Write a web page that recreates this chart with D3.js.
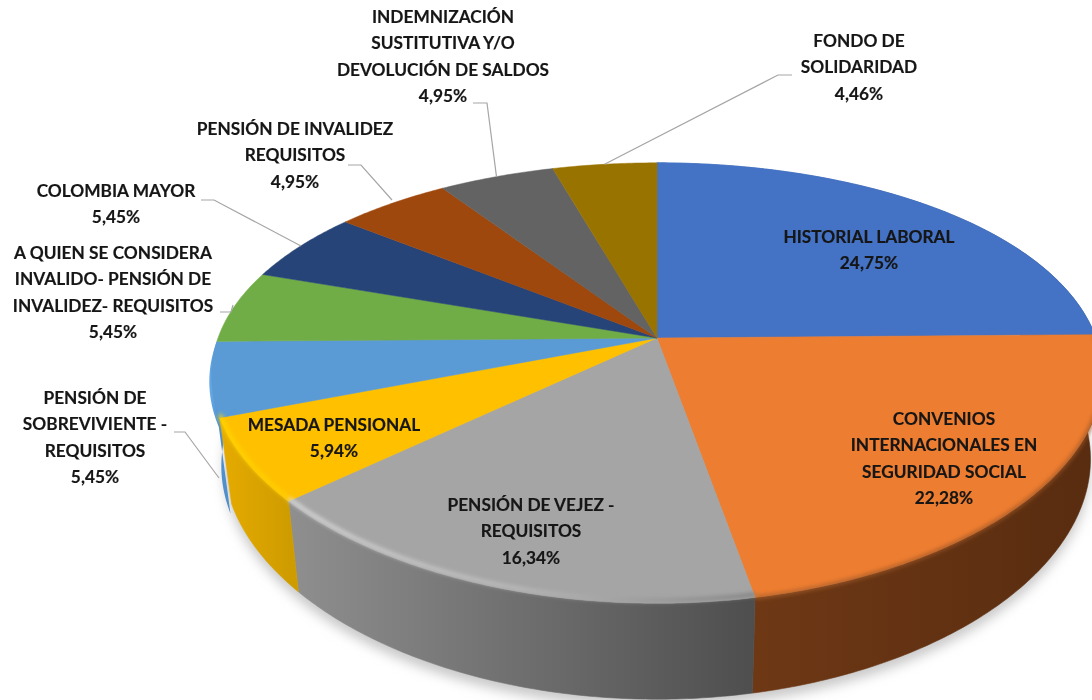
<!DOCTYPE html>
<html>
<head>
<meta charset="utf-8">
<script src="https://cdn.jsdelivr.net/npm/d3@7"></script>
<style>
html, body { margin: 0; padding: 0; background: #fff; }
svg { display: block; }
text { font-family: Lato, "Open Sans", sans-serif; font-weight: 700; font-size: 17.3px; fill: #141414; stroke: #141414; stroke-width: 0.15px; }
</style>
</head>
<body>
<div id="zone_graphique"></div>
<script>
var largeur = 1092;
var hauteur = 700;

// valeurs
var categories = ["HISTORIAL LABORAL", "CONVENIOS INTERNACIONALES EN SEGURIDAD SOCIAL", "PENSIÓN DE VEJEZ - REQUISITOS",
    "MESADA PENSIONAL", "PENSIÓN DE SOBREVIVIENTE - REQUISITOS", "A QUIEN SE CONSIDERA INVALIDO- PENSIÓN DE INVALIDEZ- REQUISITOS",
    "COLOMBIA MAYOR", "PENSIÓN DE INVALIDEZ REQUISITOS", "INDEMNIZACIÓN SUSTITUTIVA Y/O DEVOLUCIÓN DE SALDOS", "FONDO DE SOLIDARIDAD"];
var valeurs = [24.75, 22.28, 16.34, 5.94, 5.45, 5.45, 5.45, 4.95, 4.95, 4.46];
var lignes = [
    ["HISTORIAL LABORAL"],
    ["CONVENIOS", "INTERNACIONALES EN", "SEGURIDAD SOCIAL"],
    ["PENSIÓN DE VEJEZ -", "REQUISITOS"],
    ["MESADA PENSIONAL"],
    ["PENSIÓN DE", "SOBREVIVIENTE -", "REQUISITOS"],
    ["A QUIEN SE CONSIDERA", "INVALIDO- PENSIÓN DE", "INVALIDEZ- REQUISITOS"],
    ["COLOMBIA MAYOR"],
    ["PENSIÓN DE INVALIDEZ", "REQUISITOS"],
    ["INDEMNIZACIÓN", "SUSTITUTIVA Y/O", "DEVOLUCIÓN DE SALDOS"],
    ["FONDO DE", "SOLIDARIDAD"]
];

// couleurs
var couleurs = ["#4472c4", "#ed7d31", "#a5a5a5", "#ffc000", "#5b9bd5", "#70ad47", "#264478", "#9e480e", "#636363", "#997300"];
var muroClair = ["#4472c4", "#6e3815", "#8f8f8f", "#e6ab00", "#62a6e4", "#70ad47", "#264478", "#9e480e", "#636363", "#997300"];
var muroFonce = ["#2f4f88", "#582c10", "#4e4e4e", "#cf9c00", "#4f8fcb", "#70ad47", "#264478", "#9e480e", "#636363", "#997300"];
// biseau du bord avant : [début, milieu, fin]
var bordOrange = ["#a8602c", "#9c5526", "#9c5526"];
var bordGris = ["#e0e0e0", "#bcbcbc", "#7c7c7c"];
var bordJaune = ["#ffd800", "#ffd400", "#ffd000"];

// position des étiquettes (centre x, centre y de la première ligne)
var etiquetteX = [869, 944, 531, 334, 95, 113, 116, 295, 443, 859];
var etiquetteY = [237, 419, 505, 425, 398, 253, 191, 129, 17, 41];
var pasLigne = 26.2;

// traits de rappel : départ près du texte, coude, puis arrivée sur le camembert
var rappels = [
    {i: 4, pts: [[174, 432], [185, 432]], fin: [219, 478]},
    {i: 5, pts: [[220, 312], [231, 312]], fin: [233, 305]},
    {i: 6, pts: [[201, 200], [214, 200]], fin: [301, 246]},
    {i: 7, pts: [[348, 165], [361, 165]], fin: [392, 200]},
    {i: 8, pts: [[473, 103], [487, 103]]},
    {i: 9, pts: [[792, 75], [778, 75]]}
];

// projection en perspective du disque
var cx = 657, cy = 338, rx = 439, ry = 211, k = 0.2046, kx = 0.17;
var echelleBas = 0.973, profondeur = 82;

function haut(a) {
    var u = Math.sin(a), v = -Math.cos(a);
    return [cx + rx * u / (1 - kx * v), cy + ry * v / (1 - k * v)];
}
function bas(a) {
    var u = Math.sin(a), v = -Math.cos(a), w = 1 - k * v;
    return [cx + echelleBas * rx * u / (1 - kx * v), cy + profondeur / w + echelleBas * ry * v / w];
}
function arcPoints(f, d) {
    var n = Math.ceil((d.endAngle - d.startAngle) / 0.01);
    return d3.range(n + 1).map(function (j) {
        return f(d.startAngle + (d.endAngle - d.startAngle) * j / n);
    });
}

var pie = d3.pie().sort(null).value(function (d) { return d; }).startAngle(0).endAngle(2 * Math.PI);
var parts = pie(valeurs);
var ligne = d3.line();

var svg = d3.select("#zone_graphique")
    .append("svg")
        .attr("width", largeur)
        .attr("height", hauteur);

var defs = svg.append("defs");
[["flouOmbre", 6], ["flouBord", 2.1], ["flouTexte", 0.4]].forEach(function (f) {
    defs.append("filter").attr("id", f[0])
        .attr("x", "-10%").attr("y", "-10%").attr("width", "120%").attr("height", "120%")
        .append("feGaussianBlur").attr("stdDeviation", f[1]);
});

function degrade(id, x1, x2, stops) {
    var g = defs.append("linearGradient").attr("id", id)
        .attr("gradientUnits", "userSpaceOnUse")
        .attr("x1", x1).attr("x2", x2).attr("y1", 0).attr("y2", 0);
    stops.forEach(function (c, j) {
        g.append("stop").attr("offset", j / (stops.length - 1)).attr("stop-color", c);
    });
}
function bornes(d) {
    return d3.extent(arcPoints(haut, d), function (p) { return p[0]; });
}

parts.forEach(function (d, i) {
    var b = bornes(d);
    degrade("mur" + i, b[0], b[1], [muroClair[i], muroFonce[i]]);
});
degrade("bord1", bornes(parts[1])[0], bornes(parts[1])[1], bordOrange);
degrade("bord2", bornes(parts[2])[0], bornes(parts[2])[1], bordGris);
degrade("bord3", bornes(parts[3])[0], bornes(parts[3])[1], bordJaune);

// ombre portée sous le disque
var toutes = {startAngle: 0, endAngle: 2 * Math.PI};
svg.append("path")
    .attr("d", ligne(arcPoints(bas, toutes)) + "Z")
    .attr("transform", "translate(0,8)")
    .attr("fill", "#c9c9c9")
    .attr("filter", "url(#flouOmbre)");

// croissant bleu clair visible à gauche du mur jaune, il s'efface vers le haut
var bleu = {startAngle: parts[4].startAngle - 0.04, endAngle: parts[4].endAngle};
function decale(f) {
    return function (a) {
        var t = (bleu.endAngle - a) / (bleu.endAngle - bleu.startAngle);
        var p = f(a);
        return [p[0] - 5 * t, p[1]];
    };
}
svg.append("path")
    .attr("d", ligne(arcPoints(decale(haut), bleu).concat(arcPoints(decale(bas), bleu).reverse())) + "Z")
    .attr("fill", "url(#mur4)");

// murs du disque
var murs = svg.append("g");
[0, 1, 2, 3].forEach(function (i) {
    var d = parts[i];
    murs.append("path")
        .attr("d", ligne(arcPoints(haut, d).concat(arcPoints(bas, d).reverse())) + "Z")
        .attr("fill", "url(#mur" + i + ")")
        .attr("stroke", "url(#mur" + i + ")")
        .attr("stroke-width", 0.6);
});

// dessus du disque
svg.append("g").selectAll("path")
    .data(parts)
    .enter()
    .append("path")
        .attr("d", function (d) { return ligne([[cx, cy]].concat(arcPoints(haut, d))) + "Z"; })
        .attr("fill", function (d, i) { return couleurs[i]; })
        .attr("stroke", function (d, i) { return couleurs[i]; })
        .attr("stroke-width", 0.5);

// biseau clair sur le bord avant
var biseau = svg.append("g");
[1, 2, 3].forEach(function (i) {
    var d = parts[i];
    biseau.append("path")
        .attr("d", ligne(arcPoints(haut, d).map(function (p) { return [p[0], p[1] - (i == 1 ? 0 : 3)]; })))
        .attr("fill", "none")
        .attr("stroke", "url(#bord" + i + ")")
        .attr("stroke-width", i == 1 ? 3 : 3.5)
        .attr("filter", "url(#flouBord)");
});

// traits de rappel
svg.append("g").selectAll("path")
    .data(rappels)
    .enter()
    .append("path")
        .attr("d", function (r) {
            var d = parts[r.i];
            var fin = r.fin || haut((d.startAngle + d.endAngle) / 2);
            return ligne(r.pts.concat([fin]));
        })
        .attr("fill", "none")
        .attr("stroke", "#a6a6a6")
        .attr("stroke-width", 1.2);

// étiquettes
var etiquettes = svg.append("g").attr("filter", "url(#flouTexte)");
lignes.forEach(function (l, i) {
    var textes = l.concat([d3.format(".2f")(valeurs[i]).replace(".", ",") + "%"]);
    textes.forEach(function (t, j) {
        etiquettes.append("text")
            .attr("x", etiquetteX[i])
            .attr("y", etiquetteY[i] + j * pasLigne)
            .attr("dy", "0.36em")
            .attr("text-anchor", "middle")
            .text(t);
    });
});
</script>
</body>
</html>
